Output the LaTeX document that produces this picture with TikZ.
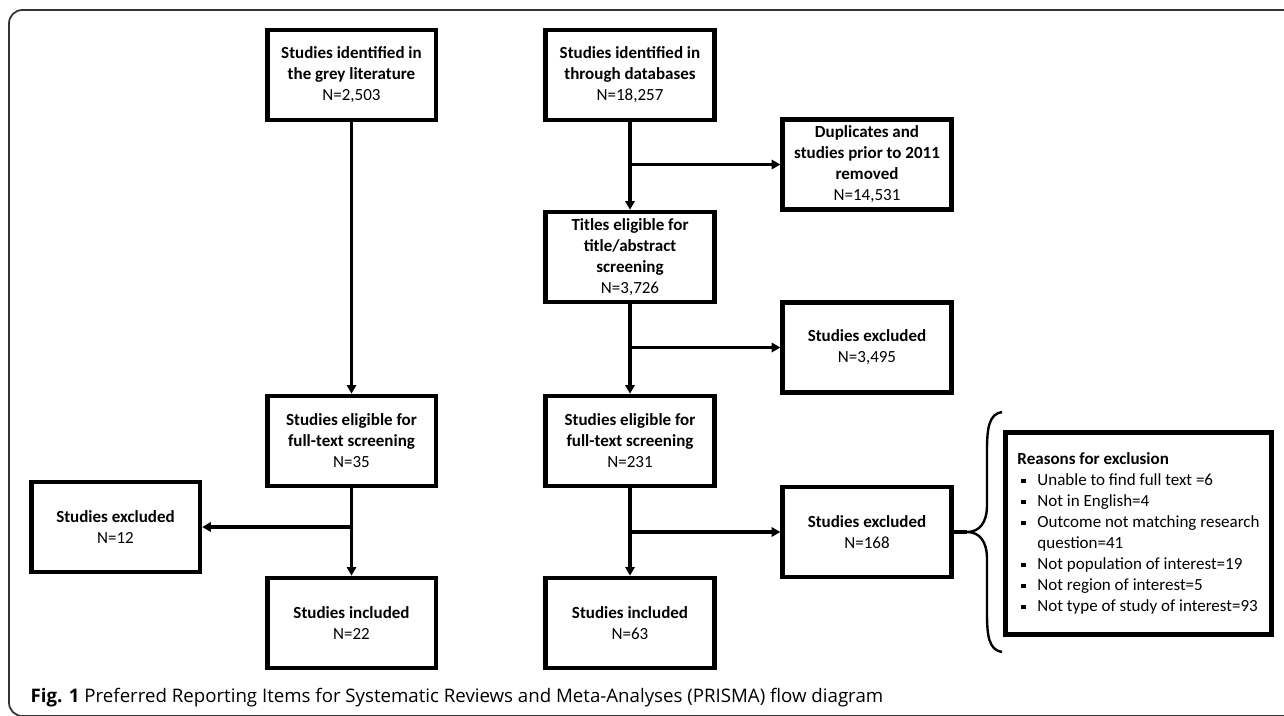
\documentclass[tikz,border=0pt]{standalone}
\usepackage{fontspec}
\setmainfont{Carlito}
\newfontfamily\capfont{Open Sans}
\usetikzlibrary{arrows.meta}

\newcommand{\rsnitem}[1]{\makebox[15pt][l]{\hspace{2.5pt}\raisebox{1.6pt}{\rule{3.6pt}{3.6pt}}}#1}

\begin{document}
\begin{tikzpicture}[x=0.75pt,y=-0.75pt,
  box/.style={draw,line width=3.5pt,minimum width=126.5pt,minimum height=67.5pt,
    align=center,inner sep=2pt,font=\fontsize{12.75}{15.75}\selectfont},
  link/.style={line width=2.4pt,-{Triangle[length=6.5pt,width=7pt]}},
  plain/.style={line width=2.4pt}]
\useasboundingbox (0,0) rectangle (1284,715);
\begin{scope}
\clip (0,0) rectangle (1284,715);
\draw[line width=1.3pt,black!80,rounded corners=10pt] (1300,10) -- (9,10) -- (9,716) -- (1300,716); %frame
\end{scope}

% grey literature
\node[box] (grey) at (351.5,75) {\textbf{Studies identified in}\\\textbf{the grey literature}\\N=2,503};
\node[box] (ftL) at (351.5,441) {\textbf{Studies eligible for}\\\textbf{full-text screening}\\N=35};
\node[box] (exL) at (115.5,527) {\textbf{Studies excluded}\\N=12};
\node[box] (inL) at (351.5,623) {\textbf{Studies included}\\N=22};

% databases
\node[box] (db) at (630,75) {\textbf{Studies identified in}\\\textbf{through databases}\\N=18,257};
\node[box] (dup) at (867,164.5) {\textbf{Duplicates and}\\\textbf{studies prior to 2011}\\\textbf{removed}\\N=14,531};
\node[box] (titles) at (630,257) {\textbf{Titles eligible for}\\\textbf{title/abstract}\\\textbf{screening}\\N=3,726};
\node[box] (exA) at (867,347.5) {\textbf{Studies excluded}\\N=3,495};
\node[box] (ftR) at (630,441) {\textbf{Studies eligible for}\\\textbf{full-text screening}\\N=231};
\node[box] (exB) at (867,532) {\textbf{Studies excluded}\\N=168};
\node[box] (inR) at (630,623) {\textbf{Studies included}\\N=63};

% reasons
\node[box,align=left,minimum width=199.7pt,minimum height=151.7pt] (why) at (1138.5,533.5) {%
\textbf{Reasons for exclusion}\\
\rsnitem{Unable to find full text =6}\\
\rsnitem{Not in English=4}\\
\rsnitem{Outcome not matching research}\\
\hspace*{15pt}question=41\\
\rsnitem{Not population of interest=19}\\
\rsnitem{Not region of interest=5}\\
\rsnitem{Not type of study of interest=93}};

\draw[link] (grey) -- (ftL);
\draw[link] (ftL) -- (inL);
\draw[link] (ftL.south |- exL) -- (exL);
\draw[link] (db) -- (titles);
\draw[link] (db.south |- dup) -- (dup);
\draw[link] (titles) -- (ftR);
\draw[link] (titles.south |- exA) -- (exA);
\draw[link] (ftR) -- (inR);
\draw[link] (ftR.south |- exB) -- (exB);

% brace
\coordinate (tip) at (967,532);
\draw[plain] (exB) -- (tip);
\draw[line width=1.8pt] (1002,412) .. controls (989,414) and (987,428) .. (987,450) -- (987,505)
  .. controls (987,522) and (980,532) .. (tip) .. controls (980,532) and (987,542) .. (987,559)
  -- (987,614) .. controls (987,636) and (989,650) .. (1002,652);

\node[anchor=base west,font=\capfont\fontsize{14}{16}\selectfont] (cap) at (26,702)
  {\textbf{Fig. 1} Preferred Reporting Items for Systematic Reviews and Meta-Analyses (PRISMA) flow diagram};
\end{tikzpicture}
\end{document}
